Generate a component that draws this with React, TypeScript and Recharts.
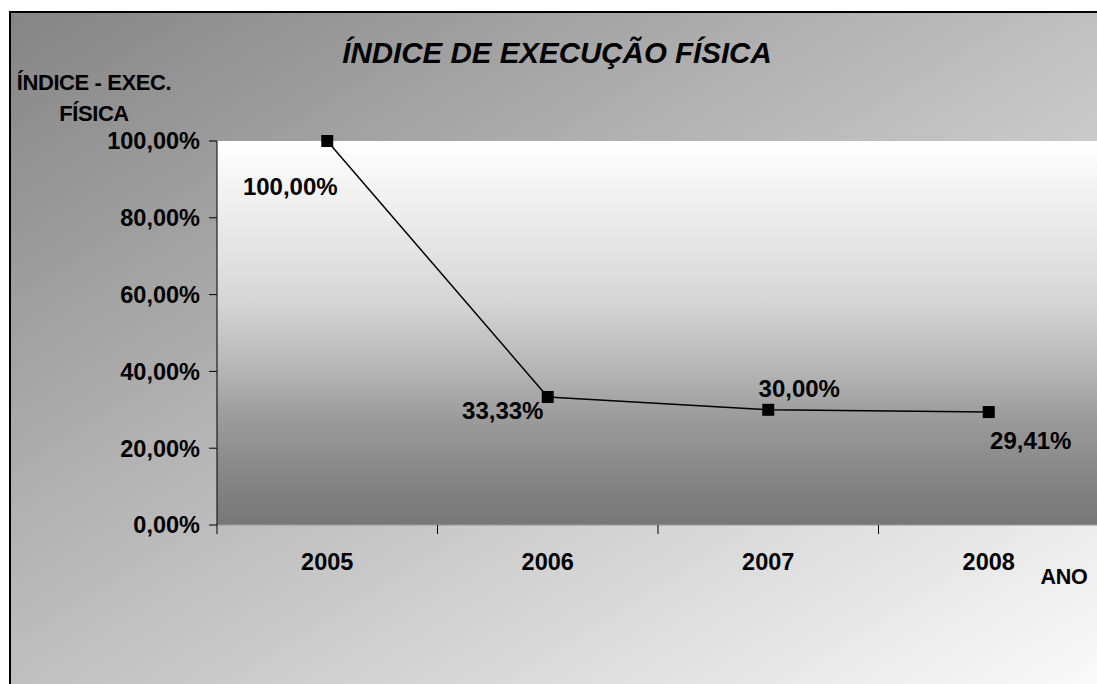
import { CartesianGrid, LabelList, Line, LineChart, XAxis, YAxis } from "recharts";

const years = ["2005", "2006", "2007", "2008"];
const indexValues = [100, 33.33, 30.0, 29.41];
const yTicks = [0, 20, 40, 60, 80, 100];

const data = years.map((year, i) => ({ year, value: indexValues[i] }));

// label offsets relative to each point (as placed in the original)
const labelOffsets: [number, number][] = [
  [-37, 45],
  [-45, 13],
  [31, -21],
  [42, 28],
];

const CHART_W = 1100;
const CHART_H = 684;
const MARGIN = { top: 141, right: 1, bottom: 0, left: 0 };
const YAXIS_W = 217;
const XAXIS_H = 159;
const PLOT_W = CHART_W - MARGIN.left - MARGIN.right - YAXIS_W;
const BAND = PLOT_W / years.length;

const FONT = "'Liberation Sans', Arial, Helvetica, sans-serif";

const pct = (v: number) => v.toFixed(2).replace(".", ",") + "%";

function YearTick(props: any) {
  const { x, y, payload, index } = props;
  const last = index === years.length - 1;
  return (
    <g>
      <line x1={x - BAND / 2} x2={x - BAND / 2} y1={y} y2={y + 9} stroke="#000" />
      {last && <line x1={x + BAND / 2} x2={x + BAND / 2} y1={y} y2={y + 9} stroke="#000" />}
      <text
        x={x}
        y={y + 37}
        textAnchor="middle"
        dominantBaseline="central"
        fontFamily={FONT}
        fontWeight="bold"
        fontSize={23.5}
        fill="#000"
      >
        {payload.value}
      </text>
    </g>
  );
}

function SquareDot(props: any) {
  const { cx, cy, index } = props;
  return <rect key={`dot-${index}`} x={cx - 6} y={cy - 6} width={12} height={12} fill="#000" />;
}

function PointLabel(props: any) {
  const { x, y, value, index } = props;
  const [dx, dy] = labelOffsets[index] || [0, 0];
  return (
    <text
      x={x + dx}
      y={y + dy}
      textAnchor="middle"
      dominantBaseline="central"
      fontFamily={FONT}
      fontWeight="bold"
      fontSize={24}
      fill="#000"
    >
      {pct(value)}
    </text>
  );
}

export default function App() {
  return (
    <div
      style={{
        position: "absolute",
        left: 0,
        top: 0,
        width: 1097,
        height: 684,
        overflow: "hidden",
        background: "#fff",
      }}
    >
      <div
        style={{
          position: "absolute",
          left: 9,
          top: 11,
          width: 1110,
          height: 690,
          borderLeft: "2px solid #000",
          borderTop: "2px solid #000",
          background: "linear-gradient(to bottom right, #858585, #fdfdfd)",
        }}
      />
      <div style={{ position: "absolute", left: 0, top: 0 }}>
        <LineChart width={CHART_W} height={CHART_H} data={data} margin={MARGIN}>
          <defs>
            <linearGradient id="plotBg" x1="0" y1="0" x2="0" y2="1">
              <stop offset="0%" stopColor="#ffffff" />
              <stop offset="41%" stopColor="#d7d7d7" />
              <stop offset="62%" stopColor="#b0b0b0" />
              <stop offset="73%" stopColor="#9a9a9a" />
              <stop offset="88%" stopColor="#858585" />
              <stop offset="100%" stopColor="#777777" />
            </linearGradient>
          </defs>
          <CartesianGrid horizontal={false} vertical={false} fill="url(#plotBg)" fillOpacity={1} />
          <XAxis
            dataKey="year"
            height={XAXIS_H}
            interval={0}
            padding={{ left: BAND / 2, right: BAND / 2 }}
            axisLine={{ stroke: "#9a9a9a", strokeWidth: 1 }}
            tickLine={false}
            tickSize={0}
            tickMargin={0}
            tick={<YearTick />}
          />
          <YAxis
            width={YAXIS_W}
            domain={[0, 100]}
            ticks={yTicks}
            interval={0}
            tickFormatter={pct}
            axisLine={{ stroke: "#000" }}
            tickLine={{ stroke: "#000" }}
            tickSize={8}
            tickMargin={9}
            tick={{ fill: "#000", fontSize: 23.5, fontWeight: "bold", fontFamily: FONT }}
          />
          <Line
            type="linear"
            dataKey="value"
            stroke="#000"
            strokeWidth={1.5}
            dot={<SquareDot />}
            activeDot={false}
            isAnimationActive={false}
          >
            <LabelList dataKey="value" content={<PointLabel />} />
          </Line>
          <text
            x={557}
            y={52}
            textAnchor="middle"
            dominantBaseline="central"
            fontFamily={FONT}
            fontWeight="bold"
            fontStyle="italic"
            fontSize={29.5}
            fill="#000"
          >
            ÍNDICE DE EXECUÇÃO FÍSICA
          </text>
          <text x={94} y={82} textAnchor="middle" dominantBaseline="central" fontFamily={FONT} fontWeight="bold" fontSize={22} letterSpacing={-0.4} fill="#000">
            ÍNDICE - EXEC.
          </text>
          <text x={94} y={113} textAnchor="middle" dominantBaseline="central" fontFamily={FONT} fontWeight="bold" fontSize={22} letterSpacing={-0.4} fill="#000">
            FÍSICA
          </text>
          <text x={1064} y={577} textAnchor="middle" dominantBaseline="central" fontFamily={FONT} fontWeight="bold" fontSize={21.5} letterSpacing={-0.3} fill="#000">
            ANO
          </text>
        </LineChart>
      </div>
    </div>
  );
}
